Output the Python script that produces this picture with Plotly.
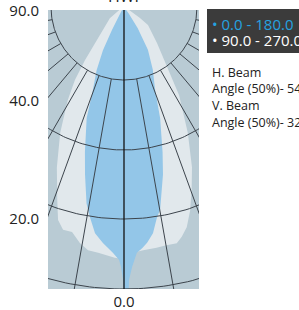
import numpy as np
import plotly.graph_objects as go

# ---- data (polar: angle from nadir in degrees, intensity in chart units) ----
c0_angles = [-90, -40, -32, -27.6, -26.0, -23.4, -20.5, -18.6, -15.1, -13.1, -10.8, -9.2, -7.3,
             -5.1, -3.3, -2.6, -1.1, -0.66, -0.2, 0.1, 0.7, 1.05, 1.8, 2.3, 3.0, 4.3, 5.6, 7.3,
             8.9, 10.1, 13.1, 14.9, 18.0, 20.5, 24.7, 29.2, 33, 36, 40, 90]
c0_cd = [0, 1, 5, 26, 48, 69, 89, 117, 150, 172, 200, 213, 228,
         237, 243, 246, 253, 260, 273, 310, 310, 273, 260, 253, 246, 242, 237, 228,
         213, 206, 172, 150, 117, 89, 69, 49, 25, 8, 1, 0]

c90_angles = [-90, -65, -51.8, -39.3, -36.3, -33.9, -31.1, -26.9, -22.7, -19.1, -17.2, -15.3,
              -13.0, -10.6, -8.4, -6.0, -3.9, -2.1, 0, 3.0, 4.5, 7.7, 9.8, 12.6, 14.1, 15.9,
              18.0, 20.3, 23.0, 26.9, 32.0, 35.6, 42.5, 53.1, 55.5, 65, 90]
c90_cd = [0, 3, 18, 43, 66, 88, 109, 141, 174, 204, 223, 231,
          231, 240, 246, 247, 249, 251, 252, 245, 244, 243, 242, 242, 237, 229,
          214, 195, 174, 141, 104, 74, 49, 30, 19, 3, 0]

series_names = ["0.0 - 180.0", "90.0 - 270.0"]
ring_values = [73, 143, 212, 282]
spoke_angles = [a for a in range(-80, 90, 10) if a != 0]
label_angles = [90, 40, 20]
label_texts = ["90.0", "40.0", "20.0"]
x_label_vals = [0]
x_label_texts = ["0.0"]
title_text = "HWI"
info_lines = ["H. Beam", "Angle (50%)- 54°", "V. Beam", "Angle (50%)- 32°"]

# ---- styling ----
BG = "#b9cbd4"
WHITE_FILL = "#e1e8ec"
BLUE_FILL = "#93c6e8"
GRID = "#3c444c"
TXT = "#222222"
FONT = "Open Sans"
XR = [-76, 75]
YR = [-282, -3]


def to_xy(ang, r):
    th = np.radians(np.asarray(ang, dtype=float))
    r = np.asarray(r, dtype=float)
    return r * np.sin(th), -r * np.cos(th)


fig = go.Figure()

# light distribution curves
x90, y90 = to_xy(c90_angles, c90_cd)
fig.add_trace(go.Scatter(x=x90, y=y90, fill="toself", mode="lines",
                         line=dict(width=0, color=WHITE_FILL), fillcolor=WHITE_FILL,
                         name=series_names[1], showlegend=False, hoverinfo="skip"))
x0, y0 = to_xy(c0_angles, c0_cd)
fig.add_trace(go.Scatter(x=x0, y=y0, fill="toself", mode="lines",
                         line=dict(width=0, color=BLUE_FILL), fillcolor=BLUE_FILL,
                         name=series_names[0], showlegend=False, hoverinfo="skip"))

# rings
gx, gy = [], []
arc = np.arange(-100, 100.5, 1.0)
for rv in ring_values:
    ax_, ay_ = to_xy(arc, np.full_like(arc, rv))
    gx += list(ax_) + [None]
    gy += list(ay_) + [None]
# spokes
for a in spoke_angles:
    sx, sy = to_xy([a, a], [ring_values[0], 420])
    gx += list(sx) + [None]
    gy += list(sy) + [None]
fig.add_trace(go.Scatter(x=gx, y=gy, mode="lines", line=dict(color=GRID, width=1),
                         showlegend=False, hoverinfo="skip"))
# nadir line
nx, ny = to_xy([0, 0], [0, 420])
fig.add_trace(go.Scatter(x=nx, y=ny, mode="lines", line=dict(color="#111111", width=1.3),
                         showlegend=False, hoverinfo="skip"))

# angle labels where spokes leave the left edge
label_offset = 3
tick_y = []
for a in label_angles:
    if a == 90:
        tick_y.append(YR[1] - 0.6)
    else:
        tick_y.append(-(abs(XR[0]) / np.tan(np.radians(a)) + label_offset))

W, H = 299, 310
ml, mr, mt, mb = 48, 100, 10, 21
pw, ph = W - ml - mr, H - mt - mb


def px_to_paper(px, py):
    return (px - ml) / pw, (H - mb - py) / ph


fig.update_layout(
    width=W, height=H, autosize=False,
    margin=dict(l=ml, r=mr, t=mt, b=mb, pad=0, autoexpand=False),
    paper_bgcolor="white", plot_bgcolor=BG,
    font=dict(family=FONT, color=TXT, size=15),
    xaxis=dict(range=XR, showgrid=False, zeroline=False, showline=False, automargin=False,
               tickmode="array", tickvals=x_label_vals, ticktext=x_label_texts,
               ticks="", ticklabelstandoff=2, fixedrange=True, ticklabeloverflow="allow",
               tickfont=dict(size=15, color=TXT, family=FONT)),
    yaxis=dict(range=YR, showgrid=False, zeroline=False, showline=False, automargin=False,
               tickmode="array", tickvals=tick_y, ticktext=label_texts,
               ticks="", ticklabelstandoff=8, fixedrange=True, ticklabeloverflow="allow",
               tickfont=dict(size=15, color=TXT, family=FONT)),
    showlegend=False,
)

# legend box
bx0, by0 = px_to_paper(207, 53)
bx1, by1 = px_to_paper(320, 9)
fig.add_shape(type="rect", xref="paper", yref="paper", x0=bx0, y0=by0, x1=bx1, y1=by1,
              fillcolor="#3b3b3b", line=dict(width=0), layer="above")
legend_colors = ["#25a2e0", "#ffffff"]
for i, (nm, col) in enumerate(zip(series_names, legend_colors)):
    lx, ly = px_to_paper(210.5, 24 + 15.5 * i)
    fig.add_annotation(xref="paper", yref="paper", x=lx, y=ly, xanchor="left", yanchor="middle",
                       text="• " + nm, showarrow=False,
                       font=dict(size=15, color=col, family=FONT), borderpad=0)

for i, line in enumerate(info_lines):
    lx, ly = px_to_paper(211, 72 + 16.8 * i)
    fig.add_annotation(xref="paper", yref="paper", x=lx, y=ly, xanchor="left", yanchor="middle",
                       text=line, showarrow=False,
                       font=dict(size=12.5, color=TXT, family=FONT), borderpad=0)

tx, ty = px_to_paper(123, 8)
fig.add_annotation(xref="paper", yref="paper", x=tx, y=ty, xanchor="center", yanchor="bottom",
                   text=title_text, showarrow=False,
                   font=dict(size=16, color=TXT, family=FONT), borderpad=0)

fig.write_html("out.html", config={"displayModeBar": False},
               post_script="document.body.style.margin='0';")
